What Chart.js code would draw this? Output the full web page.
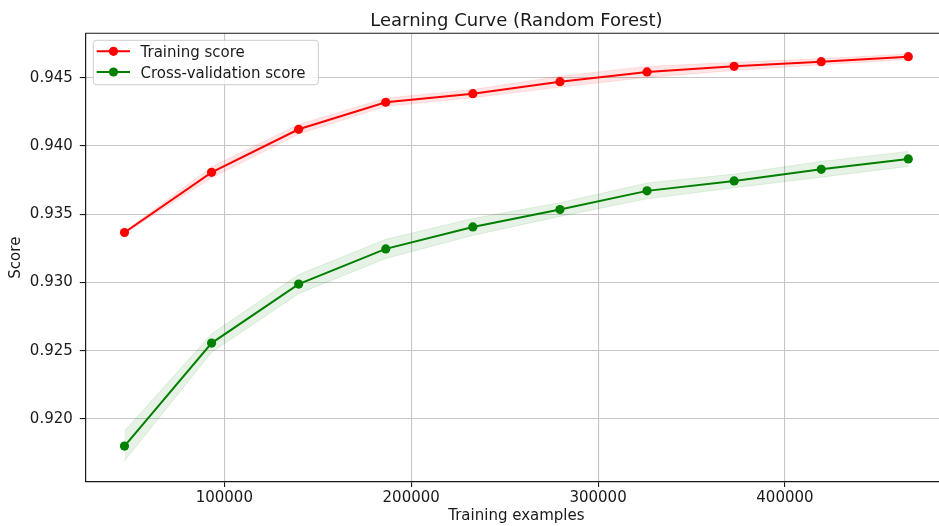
<!DOCTYPE html>
<html>
<head>
<meta charset="utf-8">
<title>Learning Curve (Random Forest)</title>
<script src="https://cdn.jsdelivr.net/npm/chart.js@4/dist/chart.umd.min.js"></script>
<style>
  html, body { margin: 0; padding: 0; overflow: hidden; background: #fff; }
  #wrap { width: 960px; height: 526px; }
  canvas { display: block; }
</style>
</head>
<body>
<div id="wrap"><canvas id="curve" width="960" height="526"></canvas></div>
<script>
// Training set sizes used for each point of the curve
const trainSizes = [46600, 93200, 139800, 186400, 233000, 279600, 326200, 372800, 419400, 466000];

// Mean and standard deviation of the scores across CV folds
const trainMean = [0.93366, 0.93807, 0.94122, 0.94320, 0.94383, 0.94471, 0.94542, 0.94583, 0.94617, 0.94654];
const trainStd  = [0.00008, 0.00040, 0.00035, 0.00030, 0.00030, 0.00040, 0.00040, 0.00030, 0.00022, 0.00020];
const cvMean    = [0.91802, 0.92556, 0.92988, 0.93246, 0.93407, 0.93534, 0.93671, 0.93744, 0.93829, 0.93905];
const cvStd     = [0.00110, 0.00068, 0.00070, 0.00070, 0.00062, 0.00050, 0.00058, 0.00050, 0.00058, 0.00055];

// Axis ticks
const xTicks = [100000, 200000, 300000, 400000];
const yTicks = [0.920, 0.925, 0.930, 0.935, 0.940, 0.945];

const seriesNames = ['Training score', 'Cross-validation score'];
const chartTitle = 'Learning Curve (Random Forest)';
const xTitle = 'Training examples';
const yTitle = 'Score';

const FONT = 'DejaVu Sans';
const TEXT = '#1a1a1a';
const SMALL = 15;

const pts = (ys) => trainSizes.map((x, i) => ({ x: x, y: ys[i] }));
const band = (mean, std, sign) => trainSizes.map((x, i) => ({ x: x, y: mean[i] + sign * std[i] }));

function bandSet(data, colour, fill) {
  return {
    data: data,
    borderColor: colour,
    borderWidth: 1,
    backgroundColor: colour,
    pointRadius: 0,
    pointHoverRadius: 0,
    fill: fill,
    order: 2,
    tension: 0
  };
}

function lineSet(label, data, colour) {
  return {
    label: label,
    data: data,
    borderColor: colour,
    backgroundColor: colour,
    borderWidth: 2,
    pointRadius: 4.6,
    pointBorderWidth: 0,
    pointBackgroundColor: colour,
    pointHoverRadius: 4.6,
    fill: false,
    order: 1,
    tension: 0
  };
}

// Title, top frame line and boxed legend drawn on the chart
const decorations = {
  id: 'decorations',
  afterDraw(chart) {
    const ctx = chart.ctx;
    const a = chart.chartArea;
    ctx.save();

    // frame: top and right edges
    ctx.strokeStyle = '#1a1a1a';
    ctx.lineWidth = 1.1;
    ctx.beginPath();
    ctx.moveTo(a.left, a.top);
    ctx.lineTo(a.right, a.top);
    ctx.lineTo(a.right, a.bottom);
    ctx.stroke();

    // title
    ctx.fillStyle = TEXT;
    ctx.font = '18px "' + FONT + '"';
    ctx.textAlign = 'center';
    ctx.textBaseline = 'alphabetic';
    ctx.fillText(chartTitle, (a.left + a.right) / 2, 26);

    // legend box
    const bx = 93.3, by = 40.3, bw = 225, bh = 44.4, r = 3;
    ctx.beginPath();
    ctx.moveTo(bx + r, by);
    ctx.lineTo(bx + bw - r, by);
    ctx.arcTo(bx + bw, by, bx + bw, by + r, r);
    ctx.lineTo(bx + bw, by + bh - r);
    ctx.arcTo(bx + bw, by + bh, bx + bw - r, by + bh, r);
    ctx.lineTo(bx + r, by + bh);
    ctx.arcTo(bx, by + bh, bx, by + bh - r, r);
    ctx.lineTo(bx, by + r);
    ctx.arcTo(bx, by, bx + r, by, r);
    ctx.closePath();
    ctx.fillStyle = 'rgba(255,255,255,0.8)';
    ctx.fill();
    ctx.strokeStyle = '#cccccc';
    ctx.lineWidth = 1;
    ctx.stroke();

    const rows = [
      { ds: chart.data.datasets[4], y: 51.3, base: 56.8 },
      { ds: chart.data.datasets[5], y: 72.0, base: 77.5 }
    ];
    ctx.font = SMALL + 'px "' + FONT + '"';
    ctx.textAlign = 'left';
    rows.forEach(row => {
      ctx.strokeStyle = row.ds.borderColor;
      ctx.lineWidth = 2;
      ctx.beginPath();
      ctx.moveTo(96.7, row.y);
      ctx.lineTo(130, row.y);
      ctx.stroke();
      ctx.fillStyle = row.ds.borderColor;
      ctx.beginPath();
      ctx.arc(113.5, row.y, 4.6, 0, Math.PI * 2);
      ctx.fill();
      ctx.fillStyle = TEXT;
      ctx.fillText(row.ds.label, 140.5, row.base);
    });

    ctx.restore();
  }
};

new Chart(document.getElementById('curve'), {
  type: 'line',
  data: {
    datasets: [
      bandSet(band(trainMean, trainStd, 1), 'rgba(255,0,0,0.1)', false),
      bandSet(band(trainMean, trainStd, -1), 'rgba(255,0,0,0.1)', '-1'),
      bandSet(band(cvMean, cvStd, 1), 'rgba(0,128,0,0.1)', false),
      bandSet(band(cvMean, cvStd, -1), 'rgba(0,128,0,0.1)', '-1'),
      lineSet(seriesNames[0], pts(trainMean), '#ff0000'),
      lineSet(seriesNames[1], pts(cvMean), '#008000')
    ]
  },
  options: {
    responsive: false,
    animation: false,
    devicePixelRatio: 1,
    layout: { padding: { left: 0, top: 33.3, right: 12.5, bottom: 0 } },
    plugins: {
      legend: { display: false },
      tooltip: { enabled: false },
      title: { display: false }
    },
    scales: {
      x: {
        type: 'linear',
        min: 25630,
        max: 486970,
        afterFit(scale) { scale.height = 44; },
        afterBuildTicks(scale) { scale.ticks = xTicks.map(v => ({ value: v })); },
        grid: { color: '#c6c6c6', lineWidth: 1.1, tickColor: '#1a1a1a', tickLength: 5, drawTicks: true },
        border: { display: true, color: '#1a1a1a', width: 1.2 },
        ticks: {
          color: TEXT,
          font: { family: FONT, size: SMALL },
          padding: 2,
          maxRotation: 0,
          autoSkip: false,
          callback: (v) => String(v)
        },
        title: {
          display: true,
          text: xTitle,
          color: TEXT,
          font: { family: FONT, size: SMALL },
          padding: { top: 0, bottom: 0.8 }
        }
      },
      y: {
        type: 'linear',
        min: 0.915385,
        max: 0.948252,
        afterFit(scale) { scale.width = 85.3; },
        afterBuildTicks(scale) { scale.ticks = yTicks.map(v => ({ value: v })); },
        grid: { color: '#c6c6c6', lineWidth: 1.1, tickColor: '#1a1a1a', tickLength: 5.5, drawTicks: true },
        border: { display: true, color: '#1a1a1a', width: 1.2 },
        ticks: {
          color: TEXT,
          font: { family: FONT, size: SMALL },
          padding: 7,
          autoSkip: false,
          callback: (v) => v.toFixed(3)
        },
        title: {
          display: true,
          text: yTitle,
          color: TEXT,
          font: { family: FONT, size: SMALL },
          padding: { top: 7.4, bottom: 0 }
        }
      }
    }
  },
  plugins: [decorations]
});
</script>
</body>
</html>
